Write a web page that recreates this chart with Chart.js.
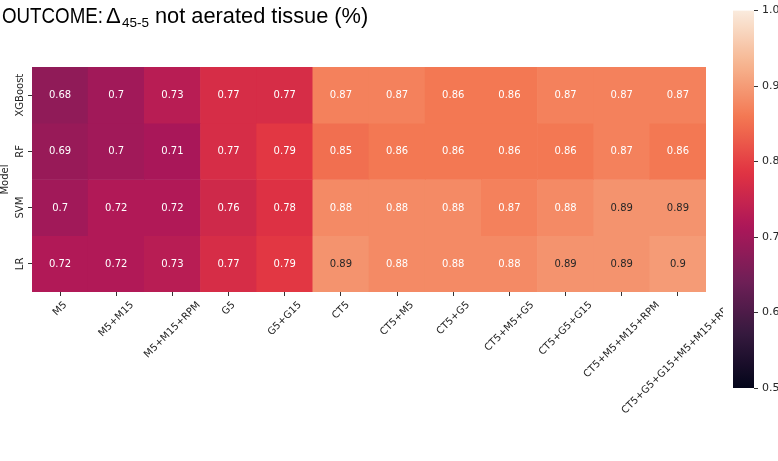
<!DOCTYPE html>
<html>
<head>
<meta charset="utf-8">
<script src="https://cdn.jsdelivr.net/npm/chart.js@4/dist/chart.umd.min.js"></script>
<style>
  html, body { margin: 0; padding: 0; background: #fff; }
  #wrap { position: relative; width: 778px; height: 461px; }
  #heat { position: absolute; left: 0; top: 0; }
  #cbar { position: absolute; left: 720px; top: 0; }
</style>
</head>
<body>
<div id="wrap">
  <canvas id="heat" width="778" height="461"></canvas>
  <canvas id="cbar" width="58" height="461"></canvas>
</div>
<script>
const models = ['XGBoost', 'RF', 'SVM', 'LR'];
const featureSets = [
    'M5', 'M5+M15', 'M5+M15+RPM', 'G5', 'G5+G15', 'CT5', 'CT5+M5', 'CT5+G5',
    'CT5+M5+G5', 'CT5+G5+G15', 'CT5+M5+M15+RPM', 'CT5+G5+G15+M5+M15+RPM'
];
const xgboostScores = [0.68, 0.70, 0.73, 0.77, 0.77, 0.87, 0.87, 0.86, 0.86, 0.87, 0.87, 0.87];
const rfScores      = [0.69, 0.70, 0.71, 0.77, 0.79, 0.85, 0.86, 0.86, 0.86, 0.86, 0.87, 0.86];
const svmScores     = [0.70, 0.72, 0.72, 0.76, 0.78, 0.88, 0.88, 0.88, 0.87, 0.88, 0.89, 0.89];
const lrScores      = [0.72, 0.72, 0.73, 0.77, 0.79, 0.89, 0.88, 0.88, 0.88, 0.89, 0.89, 0.90];
const colorbarTicks = [0.5, 0.6, 0.7, 0.8, 0.9, 1.0];

const rows = [xgboostScores, rfScores, svmScores, lrScores];
const vmin = 0.5, vmax = 1.0;

// rocket colormap, approximate stops
const rocketStops = [
    [3, 5, 26], [53, 25, 62], [112, 31, 87], [173, 23, 89],
    [225, 51, 66], [243, 118, 81], [246, 180, 143], [250, 235, 221]
];
function rocket(v) {
    let t = (v - vmin) / (vmax - vmin);
    t = Math.max(0, Math.min(1, t));
    const n = rocketStops.length - 1;
    const i = Math.min(n - 1, Math.floor(t * n));
    const f = t * n - i;
    const a = rocketStops[i], b = rocketStops[i + 1];
    const c = a.map((x, k) => Math.round(x + (b[k] - x) * f));
    return 'rgb(' + c.join(',') + ')';
}
const fmt = v => String(Number(v.toPrecision(2)));

const tickFont = '10px "DejaVu Sans"';
const textColor = '#262626';

const heatDatasets = rows.map((scores, r) => ({
    label: models[r],
    data: scores.map(() => [r, r + 1]),
    scores: scores,
    backgroundColor: scores.map(rocket),
    borderWidth: 0,
    barPercentage: 1,
    categoryPercentage: 1,
    grouped: false
}));

const heatLabels = {
    id: 'heatLabels',
    afterDatasetsDraw(chart) {
        const ctx = chart.ctx;
        const xs = chart.scales.x, ys = chart.scales.y;
        ctx.save();
        // cell annotations
        ctx.font = tickFont;
        ctx.textAlign = 'center';
        ctx.textBaseline = 'middle';
        chart.data.datasets.forEach((ds, di) => {
            chart.getDatasetMeta(di).data.forEach((bar, i) => {
                const v = ds.scores[i];
                ctx.fillStyle = v >= 0.885 ? textColor : '#ffffff';
                ctx.fillText(fmt(v), bar.x, (bar.y + bar.base) / 2 + 0.5);
            });
        });
        // y tick labels, rotated
        ctx.fillStyle = textColor;
        models.forEach((m, r) => {
            const y = ys.getPixelForValue(r + 0.5);
            ctx.save();
            ctx.translate(20.5, y);
            ctx.rotate(-Math.PI / 2);
            ctx.fillText(m, 0, 0);
            ctx.restore();
        });
        // y axis title
        ctx.save();
        ctx.translate(5.5, (ys.top + ys.bottom) / 2);
        ctx.rotate(-Math.PI / 2);
        ctx.fillText('Model', 0, 0);
        ctx.restore();
        // x tick labels, rotated 45 and centred under the tick
        ctx.save();
        ctx.beginPath();
        ctx.rect(0, xs.top, 723, chart.height - xs.top);
        ctx.clip();
        const h = 10;
        featureSets.forEach((lab, i) => {
            const x = xs.getPixelForValue(i);
            const w = ctx.measureText(lab).width;
            const bb = (w + h) * Math.SQRT1_2;
            ctx.save();
            ctx.translate(x, xs.top + 8 + bb / 2);
            ctx.rotate(-Math.PI / 4);
            ctx.fillText(lab, 0, 0);
            ctx.restore();
        });
        ctx.restore();
        // title
        ctx.fillStyle = '#000';
        ctx.textAlign = 'left';
        ctx.textBaseline = 'alphabetic';
        ctx.font = '22px "Liberation Sans"';
        const head = 'OUTCOME:';
        const hw = ctx.measureText(head).width;
        ctx.save();
        ctx.translate(2, 23);
        ctx.scale(101 / hw, 1);
        ctx.fillText(head, 0, 0);
        ctx.restore();
        ctx.fillText('\u0394', 106, 23);
        ctx.font = '13.5px "Liberation Sans"';
        ctx.fillText('45-5', 122, 27);
        ctx.font = '21.8px "Liberation Sans"';
        ctx.fillText('not aerated tissue (%)', 155, 23);
        ctx.restore();
    }
};

new Chart(document.getElementById('heat'), {
    type: 'bar',
    data: { labels: featureSets, datasets: heatDatasets },
    options: {
        responsive: false,
        animation: false,
        layout: { padding: { top: 67, right: 72, left: 0, bottom: 0 } },
        plugins: { legend: { display: false }, tooltip: { enabled: false } },
        scales: {
            x: {
                type: 'category',
                ticks: { display: false },
                grid: { offset: false, drawOnChartArea: false, tickLength: 4, color: '#333' },
                border: { display: false },
                afterFit(scale) { scale.height = 169; }
            },
            y: {
                type: 'linear',
                min: 0,
                max: 4,
                reverse: true,
                ticks: { display: false },
                afterBuildTicks(scale) {
                    scale.ticks = models.map((m, r) => ({ value: r + 0.5 }));
                },
                grid: { drawOnChartArea: false, tickLength: 4, color: '#333' },
                border: { display: false },
                afterFit(scale) { scale.width = 32; }
            }
        }
    },
    plugins: [heatLabels]
});

new Chart(document.getElementById('cbar'), {
    type: 'bar',
    data: {
        labels: ['scale'],
        datasets: [{
            data: [[vmin, vmax]],
            borderWidth: 0,
            barPercentage: 1,
            categoryPercentage: 1,
            backgroundColor(c) {
                const area = c.chart.chartArea;
                if (!area) return rocket(0.75);
                const g = c.chart.ctx.createLinearGradient(0, area.bottom, 0, area.top);
                for (let k = 0; k <= 50; k++) {
                    g.addColorStop(k / 50, rocket(vmin + (vmax - vmin) * k / 50));
                }
                return g;
            }
        }]
    },
    options: {
        responsive: false,
        animation: false,
        layout: { padding: { top: 5, bottom: 73, left: 13, right: 0 } },
        plugins: { legend: { display: false }, tooltip: { enabled: false } },
        scales: {
            x: { display: false },
            y: {
                position: 'right',
                min: vmin,
                max: vmax,
                afterBuildTicks(scale) {
                    scale.ticks = colorbarTicks.map(v => ({ value: v }));
                },
                ticks: {
                    font: { family: 'DejaVu Sans', size: 11 },
                    color: textColor,
                    padding: 4,
                    callback: v => v.toFixed(1)
                },
                grid: { drawOnChartArea: false, tickLength: 4, color: '#333' },
                border: { display: false },
                afterFit(scale) { scale.width = 24; }
            }
        }
    }
});
</script>
</body>
</html>
